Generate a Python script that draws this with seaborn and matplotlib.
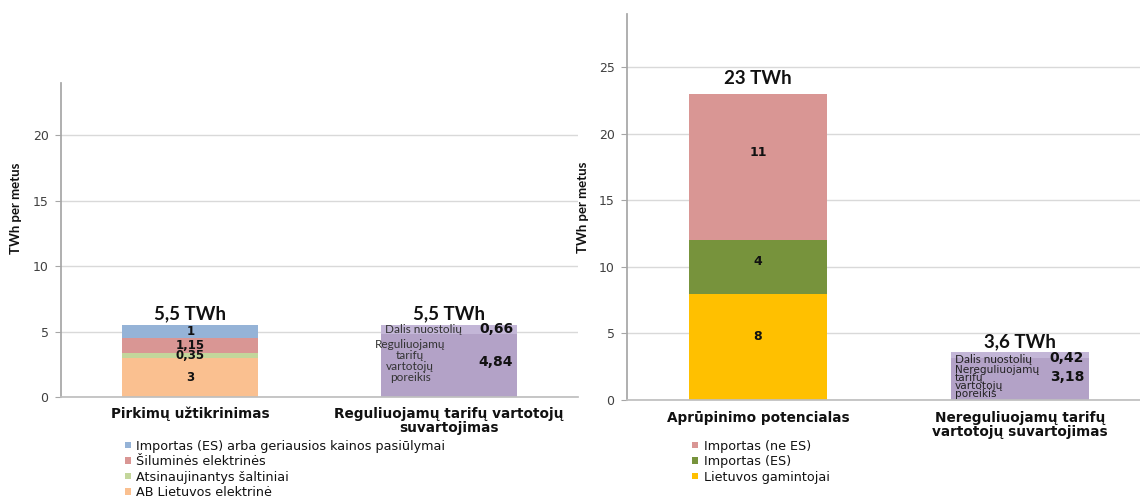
import numpy as np
import pandas as pd
import matplotlib
matplotlib.use("Agg")
import matplotlib.pyplot as plt
import seaborn as sns
from matplotlib.patches import Patch

# ---- data -------------------------------------------------------------
left_categories = ["Pirkimų užtikrinimas", "Reguliuojamų tarifų vartotojų\nsuvartojimas"]
left_supply_series = ["AB Lietuvos elektrinė", "Atsinaujinantys šaltiniai",
                      "Šiluminės elektrinės",
                      "Importas (ES) arba geriausios kainos pasiūlymai"]
left_supply_values = [3, 0.35, 1.15, 1]
left_demand_series = ["Reguliuojamų\ntarifų\nvartotojų\nporeikis", "Dalis nuostolių"]
left_demand_values = [4.84, 0.66]
left_totals = ["5,5 TWh", "5,5 TWh"]

right_categories = ["Aprūpinimo potencialas", "Nereguliuojamų tarifų\nvartotojų suvartojimas"]
right_supply_series = ["Lietuvos gamintojai", "Importas (ES)", "Importas (ne ES)"]
right_supply_values = [8, 4, 11]
right_demand_series = ["Nereguliuojamų\ntarifų\nvartotojų\nporeikis", "Dalis nuostolių"]
right_demand_values = [3.18, 0.42]
right_totals = ["23 TWh", "3,6 TWh"]

# ---- styling ----------------------------------------------------------
left_supply_colors = ["#FAC090", "#C3D69B", "#D99694", "#95B3D7"]
right_supply_colors = ["#FFC000", "#77933C", "#D99694"]
purple_colors = ["#B3A2C7", "#C3B6D7"]

sns.set_theme(style="white")
plt.rcParams["font.family"] = ["DejaVu Sans"]

fig = plt.figure(figsize=(11.4, 4.98), dpi=100)
W, H = 1140, 498
ax1 = fig.add_axes([61 / W, 1 - 397 / H, 517 / W, 314 / H])
ax2 = fig.add_axes([627 / W, 1 - 400 / H, 513 / W, 386 / H])

BAR_W = 0.525
SOFT = ["Lato", "DejaVu Sans"]


def fmt(v):
    return f"{v:g}".replace(".", ",")


def stacked_bar(ax, cats, idx, values, colors):
    """Draw one stacked column by layering cumulative bars, top layer first."""
    tops = np.cumsum(values)
    for top, color in reversed(list(zip(tops, colors))):
        df = pd.DataFrame({"cat": [cats[idx]], "top": [top]})
        sns.barplot(data=df, x="cat", y="top", order=cats, color=color,
                    width=BAR_W, saturation=1, errorbar=None, linewidth=0, ax=ax)
    return tops


def style_axes(ax, cats, ymax, yticks, xmax, label_x, label_y, pad):
    ax.set_ylim(0, ymax)
    ax.set_xlim(-0.5, xmax)
    ax.set_yticks(yticks)
    ax.set_xticks(range(len(cats)))
    ax.set_xticklabels(cats, fontsize=9.8, fontweight="bold", color="#111111",
                       linespacing=1.0)
    ax.tick_params(axis="x", length=0, pad=pad)
    ax.tick_params(axis="y", length=4, width=0.8, color="#A6A6A6",
                   labelsize=9, labelcolor="#404040", pad=5, left=True)
    ax.yaxis.grid(True, color="#D9D9D9", linewidth=1)
    ax.xaxis.grid(False)
    ax.set_axisbelow(True)
    for s in ["top", "right"]:
        ax.spines[s].set_visible(False)
    ax.spines["left"].set_color("#A6A6A6")
    ax.spines["bottom"].set_color("#BFBFBF")
    ax.set_xlabel("")
    ax.set_ylabel("TWh per metus", fontsize=9.5, fontweight="bold",
                  family=SOFT, color="#111111")
    ax.yaxis.set_label_coords(label_x, label_y)


def total_label(ax, x, y, text, dy):
    ax.annotate(text, (x, y), xytext=(0, dy), textcoords="offset points",
                ha="center", va="bottom", fontsize=13.5, fontweight="bold",
                family=SOFT, color="#111111")


# ---- left panel -------------------------------------------------------
tops = stacked_bar(ax1, left_categories, 0, left_supply_values, left_supply_colors)
for v, t in zip(left_supply_values, tops):
    ax1.text(0, t - v / 2, fmt(v), ha="center", va="center",
             fontsize=8.5, fontweight="bold", color="#111111")
total_label(ax1, 0, tops[-1], left_totals[0], 2)

dtops = stacked_bar(ax1, left_categories, 1, left_demand_values, purple_colors)
low, high = left_demand_values
ax1.text(0.755, dtops[0] + high / 2, left_demand_series[1], ha="left", va="center",
         fontsize=8.5, family=SOFT, color="#333333")
ax1.text(1.252, dtops[0] + high / 2, fmt(high), ha="right", va="center",
         fontsize=10, fontweight="bold", color="#111111")
ax1.text(0.851, low * 0.57, left_demand_series[0], ha="center", va="center",
         fontsize=8.5, family=SOFT, color="#333333", linespacing=1.0)
ax1.text(1.18, low * 0.55, fmt(low), ha="center", va="center",
         fontsize=10, fontweight="bold", color="#111111")
total_label(ax1, 1, dtops[-1], left_totals[1], 2)

style_axes(ax1, left_categories, 24, [0, 5, 10, 15, 20], 1.5, -0.075, 0.6, 7)

# ---- right panel ------------------------------------------------------
tops = stacked_bar(ax2, right_categories, 0, right_supply_values, right_supply_colors)
for v, t in zip(right_supply_values, tops):
    ax2.text(0, t - v + v * 0.6, fmt(v), ha="center", va="center",
             fontsize=9, fontweight="bold", color="#111111")
total_label(ax2, 0, tops[-1], right_totals[0], 5)

dtops = stacked_bar(ax2, right_categories, 1, right_demand_values, purple_colors)
low, high = right_demand_values
ax2.text(0.752, 3.08, right_demand_series[1], ha="left", va="center",
         fontsize=8.5, family=SOFT, color="#222222")
ax2.text(1.245, 3.12, fmt(high), ha="right", va="center",
         fontsize=10, fontweight="bold", color="#111111")
ax2.text(0.752, 1.35, right_demand_series[0], ha="left", va="center",
         fontsize=7.6, color="#222222", linespacing=0.78)
ax2.text(1.245, 1.73, fmt(low), ha="right", va="center",
         fontsize=10, fontweight="bold", color="#111111")
total_label(ax2, 1, dtops[-1], right_totals[1], 1)

style_axes(ax2, right_categories, 29, [0, 5, 10, 15, 20, 25], 1.458, -0.075, 0.5, 8)

# ---- legends ----------------------------------------------------------
def add_legend(series, colors, anchor):
    handles = [Patch(facecolor=c, edgecolor="none", label=s)
               for s, c in reversed(list(zip(series, colors)))]
    fig.legend(handles=handles, loc="upper left", bbox_to_anchor=anchor,
               frameon=False, fontsize=9.2, handlelength=0.45, handleheight=0.45,
               handletextpad=0.45, labelspacing=0.2, borderpad=0,
               borderaxespad=0, labelcolor="#111111")


add_legend(left_supply_series, left_supply_colors, (125 / W, 1 - 439.5 / H))
add_legend(right_supply_series, right_supply_colors, (692 / W, 1 - 439.5 / H))

fig.savefig("out.png", dpi=100)
